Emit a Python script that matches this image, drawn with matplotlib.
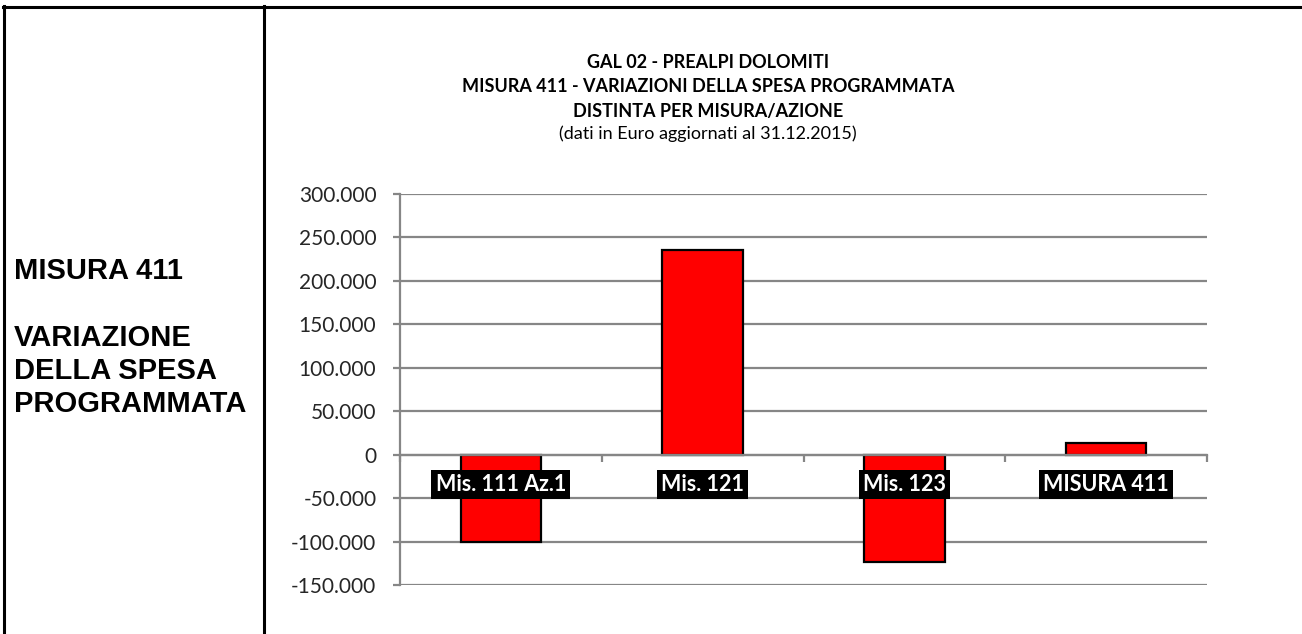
import matplotlib.pyplot as plt
from matplotlib.lines import Line2D

categories = ["Mis. 111 Az.1", "Mis. 121", "Mis. 123", "MISURA 411"]
variazioni = [-100000, 236000, -123000, 14000]
y_ticks = [-150000, -100000, -50000, 0, 50000, 100000, 150000, 200000, 250000, 300000]

title_lines = [
    ("GAL 02 - PREALPI DOLOMITI", "bold"),
    ("MISURA 411 - VARIAZIONI DELLA SPESA PROGRAMMATA", "bold"),
    ("DISTINTA PER MISURA/AZIONE", "bold"),
    ("(dati in Euro aggiornati al 31.12.2015)", "normal"),
]
side_lines = ["MISURA 411", "", "VARIAZIONE", "DELLA SPESA", "PROGRAMMATA"]

W, H = 1302, 634
GRID = "#868686"

fig = plt.figure(figsize=(W / 100, H / 100), dpi=100)
fig.patch.set_facecolor("white")


def fx(px):
    return px / W


def fy(py):
    return 1 - py / H


# table frame
frame_lw = 2.2
fig.add_artist(Line2D([fx(3), fx(1302)], [fy(7), fy(7)], color="black", lw=frame_lw))
fig.add_artist(Line2D([fx(4), fx(4)], [fy(6), fy(634)], color="black", lw=frame_lw))
fig.add_artist(Line2D([fx(264), fx(264)], [fy(6), fy(634)], color="black", lw=frame_lw))

# left column text
side_y = [271, 304, 338, 371, 404]
for txt, py in zip(side_lines, side_y):
    if txt:
        fig.text(fx(14), fy(py), txt, ha="left", va="center", fontsize=21,
                 fontweight="bold", family="Liberation Sans")

# chart title
title_y = [63, 87, 111, 134]
for (txt, w), py in zip(title_lines, title_y):
    fig.text(fx(708), fy(py), txt, ha="center", va="center", fontsize=13,
             fontweight=w, family="Lato")

ax = fig.add_axes([fx(400), fy(585), fx(1207) - fx(400), fy(194) - fy(585)])
ax.set_facecolor("white")

x = list(range(len(categories)))
ax.bar(x, variazioni, width=0.4, color="#FF0000", edgecolor="black", linewidth=1.6, zorder=2)

ax.set_xlim(-0.5, len(categories) - 0.5)
ax.set_ylim(y_ticks[0], y_ticks[-1])
ax.set_yticks(y_ticks)
ax.set_yticklabels([f"{v:,}".replace(",", ".") for v in y_ticks],
                   fontsize=15, family="Lato", color="#262626")
ax.yaxis.grid(True, color=GRID, linewidth=1.6)
ax.set_axisbelow(True)
ax.tick_params(axis="y", length=5, width=1.6, color=GRID, pad=12)

for side in ["top", "right"]:
    ax.spines[side].set_visible(False)
ax.spines["left"].set_color(GRID)
ax.spines["left"].set_linewidth(1.6)
ax.spines["bottom"].set_position(("data", 0))
ax.spines["bottom"].set_color(GRID)
ax.spines["bottom"].set_linewidth(1.6)

ax.set_xticks([i - 0.5 for i in range(len(categories) + 1)])
ax.set_xticklabels([])
ax.tick_params(axis="x", length=5, width=1.6, color=GRID, direction="out")

for i, cat in enumerate(categories):
    ax.annotate(cat, xy=(i, 0), xytext=(0, -30), textcoords="offset pixels",
                ha="center", va="center", fontsize=15.5, fontweight="bold",
                family="Lato", color="white", zorder=5,
                bbox=dict(boxstyle="square,pad=0.2", facecolor="black", edgecolor="none"))

fig.savefig("out.png", dpi=100)
